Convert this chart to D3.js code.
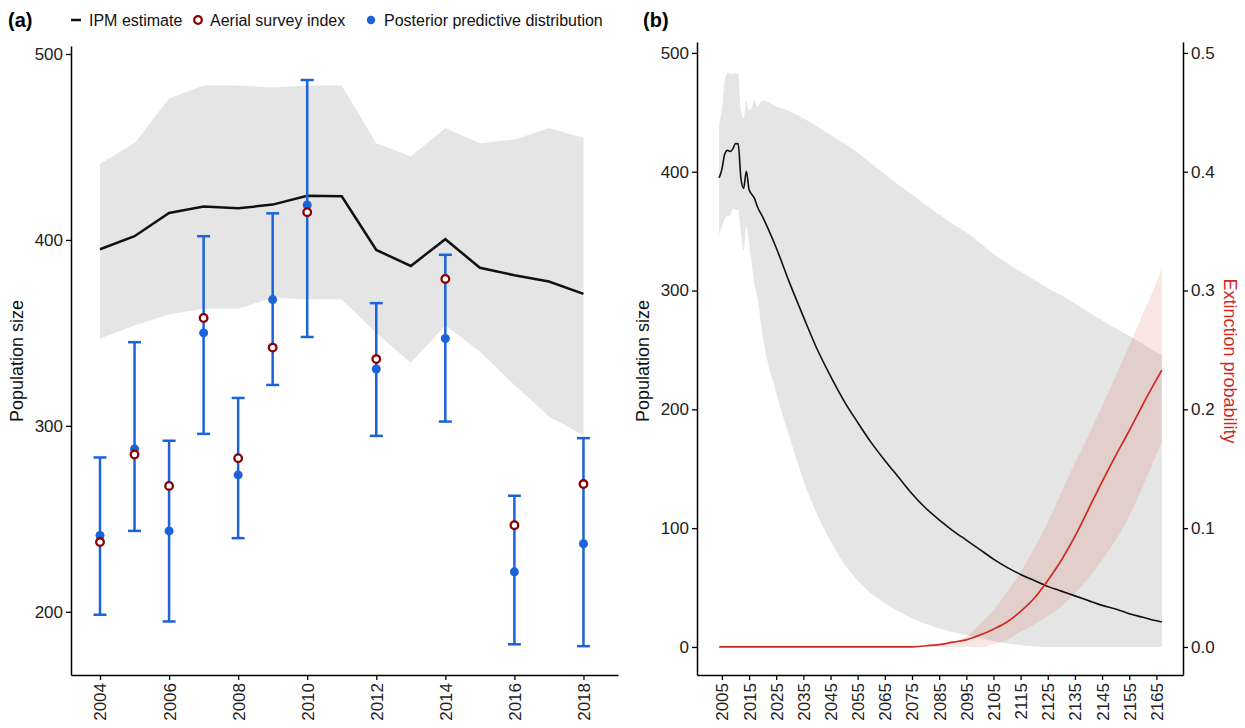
<!DOCTYPE html>
<html><head><meta charset="utf-8">
<script src="https://cdn.jsdelivr.net/npm/d3@7"></script>
<style>
body{margin:0;background:#fff}
svg{display:block}
text{font-family:"Liberation Sans", Arial, Helvetica, sans-serif}
</style>
</head><body>
<svg id="chart" width="1245" height="728"></svg>
<script>
// ---------- Panel (a) data ----------
const yearsA      = [2004,2005,2006,2007,2008,2009,2010,2011,2012,2013,2014,2015,2016,2017,2018];
const ipmA        = [395,402,414.5,418,417,419,423.7,423.5,394.6,386,400.4,385,381,377.6,371];
const ipmUpperA   = [441,452,476,483,483,482,483,483,452,445,460,452,454,460,455];
const ipmLowerA   = [347,354,360,363,363,369,368,368,350,334,354,340,322,305,295];
const surveyYears = [2004,2005,2006,2007,2008,2009,2010,2012,2014,2016,2018];
const surveyIndex = [237.5,284.6,267.7,358,282.6,342.1,414.9,335.9,379,246.6,268.7];
const ppdMedian   = [241,287.6,243.5,350,273.6,367.9,418.8,330.6,347,221.5,236.6];
const ppdLower    = [198.4,243.5,194.8,295.7,239.6,322,347.8,294.6,302.3,182.5,181.5];
const ppdUpper    = [283,345,292,402,315,414.3,486,366,392,262.4,293.4];
const ticksYA     = [200,300,400,500];
const ticksXA     = [2004,2006,2008,2010,2012,2014,2016,2018];

// ---------- Panel (b) data ----------
const projYears = [2020,2025,2030,2035,2040,2045,2050,2055,2060,2065,2070,2075,2080,2085,2090,2095,2100,2105,2110,2115,2120,2125,2130,2135,2140,2145,2150,2155,2160,2165,2167];
const projMean  = [362,336,306,278,251,228,207,189,172,157,143,129,117,107,98,90,82,74,67,61,56,51,47,43,39,35,32,28,25,22,21];
const projUpper = [460,455,451,445,438,431,424,416,407,398,389,381,372,364,356,349,340,331,323,316,309,302,296,289,282,275,268,262,255,248,246];
const projLower = [262,214,176,140,112,89,70,56,45,37,30,24,19.5,15.5,12.5,10,7.5,5,3,1.5,0.5,0,0,0,0,0,0,0,0,0,0];
const extYears  = [2004,2070,2075,2080,2085,2090,2095,2100,2105,2110,2115,2120,2125,2130,2135,2140,2145,2150,2155,2160,2165,2167];
const extProb   = [0,0,0,0.001,0.002,0.004,0.006,0.010,0.015,0.021,0.030,0.041,0.056,0.073,0.093,0.116,0.139,0.161,0.182,0.204,0.225,0.233];
const extBandYears = [2080,2085,2090,2095,2100,2105,2110,2115,2120,2125,2130,2135,2140,2145,2150,2155,2160,2165,2167];
const extUpper  = [0,0.001,0.004,0.009,0.019,0.031,0.046,0.063,0.083,0.105,0.13,0.155,0.178,0.203,0.228,0.254,0.28,0.307,0.319];
const extLower  = [0,0,0,0,0,0.002,0.006,0.013,0.019,0.026,0.034,0.045,0.058,0.073,0.09,0.11,0.135,0.162,0.172];
const ticksYB   = [0,100,200,300,400,500];
const ticksYB2  = [0,0.1,0.2,0.3,0.4,0.5];
const ticksXB   = d3.range(2005, 2166, 10);

const BLUE = "#1c62d8", DARKRED = "#8b0000", RED = "#cf2a1f", GREY = "#e5e5e5";
const svg = d3.select("#chart");

function styleAxis(g, size){
  g.select(".domain").attr("stroke","#000").attr("stroke-width",1.5);
  g.selectAll(".tick line").attr("stroke","#000").attr("stroke-width",1.3);
  g.selectAll(".tick text").attr("fill","#222").style("font-size", size+"px")
   .style("font-family",'"Liberation Sans", Arial, sans-serif');
}

// ================= Panel (a) =================
const xA = d3.scaleLinear().domain([2003.16, 2019.0]).range([71, 618]);
const yA = d3.scaleLinear().domain([166, 504.3]).range([675, 46]);
const gA = svg.append("g");

const bandA = yearsA.map((y,i)=>({x:y, lo:ipmLowerA[i], hi:ipmUpperA[i], m:ipmA[i]}));
gA.append("path").datum(bandA)
  .attr("d", d3.area().x(d=>xA(d.x)).y0(d=>yA(d.lo)).y1(d=>yA(d.hi)))
  .attr("fill", GREY);
gA.append("path").datum(bandA)
  .attr("d", d3.line().x(d=>xA(d.x)).y(d=>yA(d.m)))
  .attr("fill","none").attr("stroke","#111").attr("stroke-width",2.5);

const surv = surveyYears.map((y,i)=>({x:y, s:surveyIndex[i], m:ppdMedian[i], lo:ppdLower[i], hi:ppdUpper[i]}));
const eb = gA.append("g").attr("stroke", BLUE).attr("stroke-width", 2.5);
surv.forEach(d=>{
  eb.append("line").attr("x1",xA(d.x)).attr("x2",xA(d.x)).attr("y1",yA(d.lo)).attr("y2",yA(d.hi));
  eb.append("line").attr("x1",xA(d.x)-6.5).attr("x2",xA(d.x)+6.5).attr("y1",yA(d.lo)).attr("y2",yA(d.lo));
  eb.append("line").attr("x1",xA(d.x)-6.5).attr("x2",xA(d.x)+6.5).attr("y1",yA(d.hi)).attr("y2",yA(d.hi));
});
gA.selectAll("circle.ppd").data(surv).join("circle").attr("class","ppd")
  .attr("cx",d=>xA(d.x)).attr("cy",d=>yA(d.m)).attr("r",4.5).attr("fill",BLUE);
gA.selectAll("circle.srv").data(surv).join("circle").attr("class","srv")
  .attr("cx",d=>xA(d.x)).attr("cy",d=>yA(d.s)).attr("r",3.8)
  .attr("fill","#fff").attr("stroke",DARKRED).attr("stroke-width",2.3);

const axYA = gA.append("g").attr("transform","translate(71,0)")
  .call(d3.axisLeft(yA).tickValues(ticksYA).tickSize(5).tickSizeOuter(0).tickPadding(3));
styleAxis(axYA, 17);
const axXA = gA.append("g").attr("transform","translate(0,675)")
  .call(d3.axisBottom(xA).tickValues(ticksXA).tickFormat(d3.format("d")).tickSize(5).tickSizeOuter(0));
styleAxis(axXA, 17);
axXA.selectAll(".tick text").attr("transform","rotate(-90)").attr("text-anchor","end")
  .attr("x",-8).attr("y",0).attr("dy","0.35em");

gA.append("text").attr("transform","translate(23,361) rotate(-90)").attr("text-anchor","middle")
  .style("font-size","18px").attr("fill","#111").text("Population size");

// legend
svg.append("text").attr("x",8).attr("y",27).style("font-size","20px").style("font-weight","bold").text("(a)");
const lg = svg.append("g").style("font-size","16px").attr("fill","#111");
lg.append("line").attr("x1",71).attr("x2",81).attr("y1",20).attr("y2",20).attr("stroke","#111").attr("stroke-width",2.5);
lg.append("text").attr("x",89).attr("y",26).text("IPM estimate");
lg.append("circle").attr("cx",198).attr("cy",20).attr("r",3.8).attr("fill","#fff").attr("stroke",DARKRED).attr("stroke-width",2.3);
lg.append("text").attr("x",210).attr("y",26).text("Aerial survey index");
lg.append("circle").attr("cx",371).attr("cy",20).attr("r",4.2).attr("fill",BLUE);
lg.append("text").attr("x",384).attr("y",26).text("Posterior predictive distribution");

// ================= Panel (b) =================
const xB  = d3.scaleLinear().domain([1995.83, 2174.8]).range([697, 1183]);
const yB  = d3.scaleLinear().domain([-23.6, 509.2]).range([675, 42]);
const yB2 = d3.scaleLinear().domain([-0.0236, 0.5092]).range([675, 42]);
const gB = svg.append("g");

const popB = bandA.concat(projYears.map((y,i)=>({x:y, lo:projLower[i], hi:projUpper[i], m:projMean[i]})));
gB.append("path").datum(popB)
  .attr("d", d3.area().x(d=>xB(d.x)).y0(d=>yB(d.lo)).y1(d=>yB(d.hi)).curve(d3.curveMonotoneX))
  .attr("fill", GREY);

const extBand = extBandYears.map((y,i)=>({x:y, lo:extLower[i], hi:extUpper[i]}));
gB.append("path").datum(extBand)
  .attr("d", d3.area().x(d=>xB(d.x)).y0(d=>yB2(d.lo)).y1(d=>yB2(d.hi)).curve(d3.curveMonotoneX))
  .attr("fill", "#d03a2a").attr("fill-opacity", 0.13);

gB.append("path").datum(popB)
  .attr("d", d3.line().x(d=>xB(d.x)).y(d=>yB(d.m)).curve(d3.curveMonotoneX))
  .attr("fill","none").attr("stroke","#111").attr("stroke-width",1.6);

const ext = extYears.map((y,i)=>({x:y, p:extProb[i]}));
gB.append("path").datum(ext)
  .attr("d", d3.line().x(d=>xB(d.x)).y(d=>yB2(d.p)).curve(d3.curveMonotoneX))
  .attr("fill","none").attr("stroke",RED).attr("stroke-width",1.7);

const axYB = gB.append("g").attr("transform","translate(697,0)")
  .call(d3.axisLeft(yB).tickValues(ticksYB).tickSize(5).tickSizeOuter(0).tickPadding(3));
styleAxis(axYB, 17);
const axYB2 = gB.append("g").attr("transform","translate(1183,0)")
  .call(d3.axisRight(yB2).tickValues(ticksYB2).tickFormat(d3.format(".1f")).tickSize(5).tickSizeOuter(0).tickPadding(3));
styleAxis(axYB2, 17);
const axXB = gB.append("g").attr("transform","translate(0,675)")
  .call(d3.axisBottom(xB).tickValues(ticksXB).tickFormat(d3.format("d")).tickSize(5).tickSizeOuter(0));
styleAxis(axXB, 17);
axXB.selectAll(".tick text").attr("transform","rotate(-90)").attr("text-anchor","end")
  .attr("x",-8).attr("y",0).attr("dy","0.35em");

gB.append("text").attr("transform","translate(649,361) rotate(-90)").attr("text-anchor","middle")
  .style("font-size","18px").attr("fill","#111").text("Population size");
gB.append("text").attr("transform","translate(1224,361) rotate(90)").attr("text-anchor","middle")
  .style("font-size","18px").attr("fill",RED).text("Extinction probability");
svg.append("text").attr("x",643).attr("y",27).style("font-size","20px").style("font-weight","bold").text("(b)");
</script>
</body></html>
